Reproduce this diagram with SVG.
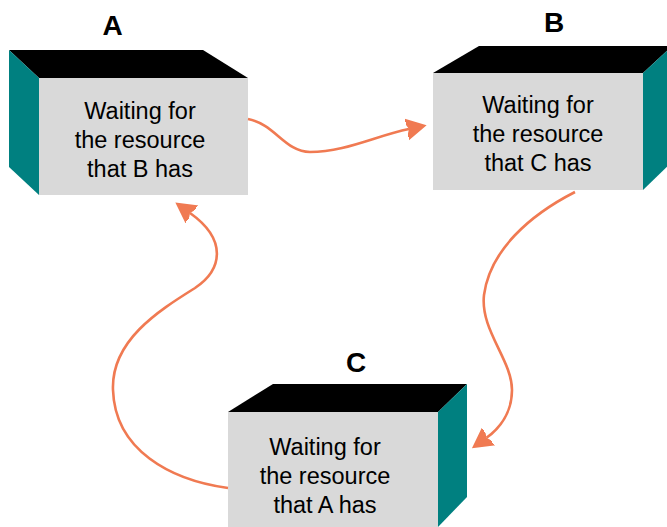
<svg xmlns="http://www.w3.org/2000/svg" width="667" height="527" viewBox="0 0 667 527">
<style>
.top{fill:#000000}
.side{fill:#008080}
.front{fill:#D9D9D9}
.lbl{font-family:"Liberation Sans",Arial,sans-serif;font-size:28px;font-weight:bold;fill:#000;text-anchor:middle}
.txt{font-family:"Liberation Sans",Arial,sans-serif;font-size:23.5px;fill:#000;text-anchor:middle}
.arr{fill:none;stroke:#F07A52;stroke-width:2.6;marker-end:url(#ah)}
</style>
<defs>
<marker id="ah" viewBox="-2 -14 26 28" refX="0" refY="0" markerWidth="26" markerHeight="28" markerUnits="userSpaceOnUse" orient="auto">
<path d="M18,0 L-6,-13 L0,0 L-6,13 Z" fill="#F07A52"/>
</marker>
</defs>
<rect width="667" height="527" fill="#FFFFFF"/>
<g id="nodeA">
<polygon class="top" points="9,50 203,50 248,78 39,78"/>
<polygon class="side" points="9,50 39,78 39,195 9,167"/>
<rect class="front" x="39" y="78" width="209" height="117"/>
<text class="lbl" x="112.5" y="35">A</text>
<text class="txt" x="140" y="119">Waiting for</text>
<text class="txt" x="140" y="148">the resource</text>
<text class="txt" x="140" y="177">that B has</text>
</g>
<g id="nodeB">
<polygon class="top" points="479,46 672,46 643,73 433,73"/>
<polygon class="side" points="643,73 672,46 672,162 643,190"/>
<rect class="front" x="433" y="73" width="210" height="117"/>
<text class="lbl" x="554" y="32">B</text>
<text class="txt" x="538" y="113">Waiting for</text>
<text class="txt" x="538" y="142">the resource</text>
<text class="txt" x="538" y="171">that C has</text>
</g>
<g id="nodeC">
<polygon class="top" points="273,384 467,384 438,412 228,412"/>
<polygon class="side" points="438,412 467,384 467,497 438,527"/>
<rect class="front" x="228" y="412" width="210" height="120"/>
<text class="lbl" x="356" y="372">C</text>
<text class="txt" x="325" y="455">Waiting for</text>
<text class="txt" x="325" y="484">the resource</text>
<text class="txt" x="325" y="513">that A has</text>
</g>
<g id="connectors">
<path class="arr" d="M248,119 C275,124 285,152 310,152 C345,152 375,136 409,129"/>
<path class="arr" d="M575,192 C530,215 490,250 484,295 C480,330 512,360 512,390 C512,412 500,428 486.5,437.8"/>
<path class="arr" d="M228,488 C170,480 115,450 113,390 C111,340 160,310 195,288 C222,270 228,240 190,213"/>
</g>
</svg>
